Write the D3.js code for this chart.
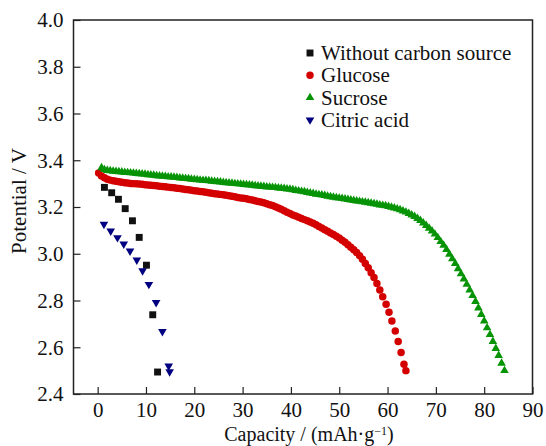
<!DOCTYPE html>
<html>
<head>
<meta charset="utf-8">
<script src="https://cdn.jsdelivr.net/npm/d3@7"></script>
<style>
  body { margin: 0; background: #fff; }
  svg text { font-family: "Liberation Serif", "Times New Roman", Times, "DejaVu Serif", serif; fill: #111; }
</style>
</head>
<body>
<div id="chart"></div>
<script>
// data (capacity mAh/g, potential V)
const noCarbon = [
  [1.4, 3.284], [2.9, 3.261], [4.3, 3.233], [5.7, 3.193], [7.2, 3.141],
  [8.6, 3.070], [10.1, 2.951], [11.4, 2.739], [12.4, 2.494]
]
const citric = [
  [1.3, 3.126], [2.7, 3.097], [4.1, 3.069], [5.4, 3.042], [6.7, 3.012],
  [8.1, 2.973], [9.3, 2.927], [10.6, 2.869], [12.1, 2.791], [13.4, 2.667],
  [14.7, 2.520], [14.9, 2.495]
]
const glucose = [
  [0.2, 3.345], [0.8, 3.333], [1.4, 3.325], [2.0, 3.319], [2.6, 3.315], [3.2, 3.312],
  [3.8, 3.310], [4.4, 3.308], [5.0, 3.306], [5.6, 3.304], [6.2, 3.303], [6.8, 3.301],
  [7.4, 3.300], [8.0, 3.299], [8.6, 3.298], [9.2, 3.297], [9.8, 3.295], [10.4, 3.294],
  [11.0, 3.293], [11.6, 3.292], [12.2, 3.291], [12.8, 3.289], [13.4, 3.288], [14.0, 3.287],
  [14.6, 3.285], [15.2, 3.283], [15.8, 3.282], [16.4, 3.280], [17.0, 3.279], [17.6, 3.277],
  [18.2, 3.275], [18.8, 3.274], [19.4, 3.272], [20.0, 3.270], [20.6, 3.268], [21.2, 3.266],
  [21.8, 3.265], [22.4, 3.263], [23.0, 3.261], [23.6, 3.259], [24.2, 3.257], [24.8, 3.256],
  [25.4, 3.254], [26.0, 3.252], [26.6, 3.250], [27.2, 3.248], [27.8, 3.246], [28.4, 3.244],
  [29.0, 3.241], [29.6, 3.239], [30.2, 3.237], [30.8, 3.235], [31.4, 3.232], [32.0, 3.230],
  [32.6, 3.227], [33.2, 3.224], [33.8, 3.221], [34.4, 3.218], [35.0, 3.214], [35.6, 3.210],
  [36.2, 3.206], [36.8, 3.201], [37.4, 3.196], [38.0, 3.190], [38.6, 3.184], [39.2, 3.178],
  [39.8, 3.172], [40.4, 3.166], [41.0, 3.161], [41.6, 3.156], [42.2, 3.151], [42.8, 3.146],
  [43.4, 3.141], [44.0, 3.136], [44.6, 3.130], [45.2, 3.124], [45.8, 3.117], [46.4, 3.110],
  [47.0, 3.103], [47.6, 3.096], [48.2, 3.089], [48.8, 3.082], [49.4, 3.075], [50.0, 3.067],
  [50.6, 3.058], [51.2, 3.049], [51.8, 3.039], [52.4, 3.028], [53.0, 3.017], [53.6, 3.005],
  [54.2, 2.992], [54.8, 2.976], [55.4, 2.958], [56.0, 2.940], [56.6, 2.919], [57.2, 2.898],
  [57.8, 2.873], [58.4, 2.845], [59.0, 2.816], [59.7, 2.784], [60.3, 2.750], [60.9, 2.712],
  [61.6, 2.670], [62.2, 2.625], [62.8, 2.578], [63.4, 2.527], [63.8, 2.500]
]
const sucrose = [
  [0.8, 3.368], [1.4, 3.360], [2.0, 3.356], [2.6, 3.355], [3.2, 3.353], [3.8, 3.352],
  [4.4, 3.351], [5.0, 3.350], [5.6, 3.348], [6.2, 3.347], [6.8, 3.346], [7.4, 3.345],
  [8.0, 3.343], [8.6, 3.342], [9.2, 3.341], [9.8, 3.340], [10.4, 3.338], [11.0, 3.337],
  [11.6, 3.336], [12.2, 3.334], [12.8, 3.333], [13.4, 3.332], [14.0, 3.331], [14.6, 3.329],
  [15.2, 3.328], [15.8, 3.327], [16.4, 3.326], [17.0, 3.324], [17.6, 3.323], [18.2, 3.322],
  [18.8, 3.321], [19.4, 3.319], [20.0, 3.318], [20.6, 3.317], [21.2, 3.315], [21.8, 3.314],
  [22.4, 3.313], [23.0, 3.312], [23.6, 3.310], [24.2, 3.309], [24.8, 3.308], [25.4, 3.307],
  [26.0, 3.305], [26.6, 3.304], [27.2, 3.303], [27.8, 3.302], [28.4, 3.300], [29.0, 3.299],
  [29.6, 3.298], [30.2, 3.296], [30.8, 3.295], [31.4, 3.294], [32.0, 3.293], [32.6, 3.291],
  [33.2, 3.290], [33.8, 3.289], [34.4, 3.288], [35.0, 3.286], [35.6, 3.285], [36.2, 3.284],
  [36.8, 3.283], [37.4, 3.281], [38.0, 3.280], [38.6, 3.279], [39.2, 3.277], [39.8, 3.276],
  [40.4, 3.274], [41.0, 3.271], [41.6, 3.269], [42.2, 3.267], [42.8, 3.265], [43.4, 3.262],
  [44.0, 3.260], [44.6, 3.258], [45.2, 3.255], [45.8, 3.253], [46.4, 3.251], [47.0, 3.249],
  [47.6, 3.246], [48.2, 3.244], [48.8, 3.242], [49.4, 3.240], [50.0, 3.238], [50.6, 3.236],
  [51.2, 3.234], [51.8, 3.232], [52.4, 3.230], [53.0, 3.228], [53.6, 3.226], [54.2, 3.224],
  [54.8, 3.222], [55.4, 3.220], [56.0, 3.218], [56.6, 3.216], [57.2, 3.214], [57.8, 3.212],
  [58.4, 3.209], [59.0, 3.207], [59.6, 3.205], [60.2, 3.202], [60.8, 3.199], [61.4, 3.196],
  [62.0, 3.192], [62.6, 3.188], [63.2, 3.183], [63.8, 3.178], [64.4, 3.172], [65.0, 3.166],
  [65.6, 3.159], [66.2, 3.151], [66.8, 3.142], [67.4, 3.132], [68.0, 3.121], [68.6, 3.109],
  [69.2, 3.097], [69.8, 3.084], [70.4, 3.069], [71.0, 3.052], [71.6, 3.036], [72.2, 3.018],
  [72.8, 2.998], [73.4, 2.978], [74.0, 2.958], [74.6, 2.936], [75.2, 2.914], [75.8, 2.892],
  [76.4, 2.869], [77.0, 2.845], [77.6, 2.821], [78.2, 2.796], [78.8, 2.768], [79.4, 2.740],
  [80.0, 2.712], [80.6, 2.683], [81.2, 2.654], [81.8, 2.625], [82.4, 2.595], [83.0, 2.565],
  [83.6, 2.532], [84.2, 2.500]
]
const xTicks = [0, 10, 20, 30, 40, 50, 60, 70, 80, 90]
const yTicks = [2.4, 2.6, 2.8, 3.0, 3.2, 3.4, 3.6, 3.8, 4.0]
const seriesNames = ['Without carbon source', 'Glucose', 'Sucrose', 'Citric acid']

// layout
const width = 546
const height = 446
const margin = { top: 20, right: 13.5, bottom: 52, left: 73.5 }
const serif = '"Liberation Serif", "Times New Roman", Times, "DejaVu Serif", serif'

const svg = d3.select('#chart').append('svg')
  .attr('width', width)
  .attr('height', height)
  .attr('font-family', serif)

const x = d3.scaleLinear().domain([-5, 90]).range([margin.left, width - margin.right])
const y = d3.scaleLinear().domain([2.4, 4.0]).range([height - margin.bottom, margin.top])

// series styles
const series = [
  { name: seriesNames[0], data: noCarbon, color: '#111111', type: d3.symbolSquare, size: 48, rot: 0 },
  { name: seriesNames[1], data: glucose, color: '#d40000', type: d3.symbolCircle, size: 44, rot: 0 },
  { name: seriesNames[2], data: sucrose, color: '#069406', type: d3.symbolTriangle, size: 32, rot: 0 },
  { name: seriesNames[3], data: citric, color: '#000080', type: d3.symbolTriangle, size: 32, rot: 180 }
]

// draw points (citric last so it sits on top like in the figure)
const drawOrder = [1, 2, 0, 3]
drawOrder.forEach(i => {
  const s = series[i]
  const sym = d3.symbol().type(s.type).size(s.size)
  svg.append('g').selectAll('path')
    .data(s.data)
    .join('path')
    .attr('d', sym)
    .attr('fill', s.color)
    .attr('transform', d => `translate(${x(d[0])},${y(d[1])})rotate(${s.rot})`)
})

// axes (ticks inside)
const xAxis = svg.append('g')
  .attr('transform', `translate(0,${height - margin.bottom})`)
  .call(d3.axisBottom(x).tickValues(xTicks).tickSizeInner(-7).tickSizeOuter(0).tickPadding(8))
const yAxis = svg.append('g')
  .attr('transform', `translate(${margin.left},0)`)
  .call(d3.axisLeft(y).tickValues(yTicks).tickFormat(d3.format('.1f')).tickSizeInner(-7).tickSizeOuter(0).tickPadding(10))

;[xAxis, yAxis].forEach(a => {
  a.attr('font-family', serif).attr('font-size', 21)
  a.select('.domain').remove()
  a.selectAll('.tick line').attr('stroke', '#222').attr('stroke-width', 1.2)
  a.selectAll('.tick text')
    .style('font-family', serif)
    .style('font-size', '21px')
    .attr('fill', '#111')
})
yAxis.selectAll('.tick text').attr('dy', '0.33em')

// frame
svg.append('rect')
  .attr('x', margin.left)
  .attr('y', margin.top)
  .attr('width', width - margin.left - margin.right)
  .attr('height', height - margin.top - margin.bottom)
  .attr('fill', 'none')
  .attr('stroke', '#222')
  .attr('stroke-width', 1.5)

// axis titles
const xTitle = svg.append('text')
  .attr('x', (margin.left + width - margin.right) / 2 + 6)
  .attr('y', height - 5)
  .attr('text-anchor', 'middle')
  .style('font-family', serif)
  .style('font-size', '20px')
xTitle.append('tspan').text('Capacity / (mAh·g')
xTitle.append('tspan').text('−1').attr('dy', -6).style('font-size', '12px')
xTitle.append('tspan').text(')').attr('dy', 6)

svg.append('text')
  .attr('transform', `translate(26,${(margin.top + height - margin.bottom) / 2 - 6})rotate(-90)`)
  .attr('text-anchor', 'middle')
  .style('font-family', serif)
  .style('font-size', '21px')
  .text('Potential / V')

// legend
const legend = svg.append('g').attr('transform', 'translate(310,53)')
series.forEach((s, i) => {
  const row = legend.append('g').attr('transform', `translate(0,${i * 22.3})`)
  row.append('path')
    .attr('d', d3.symbol().type(s.type).size(s.size)())
    .attr('fill', s.color)
    .attr('transform', `rotate(${s.rot})`)
  row.append('text')
    .attr('x', 11)
    .attr('y', 7)
    .style('font-family', serif)
    .style('font-size', '21px')
    .text(s.name)
})
</script>
</body>
</html>
